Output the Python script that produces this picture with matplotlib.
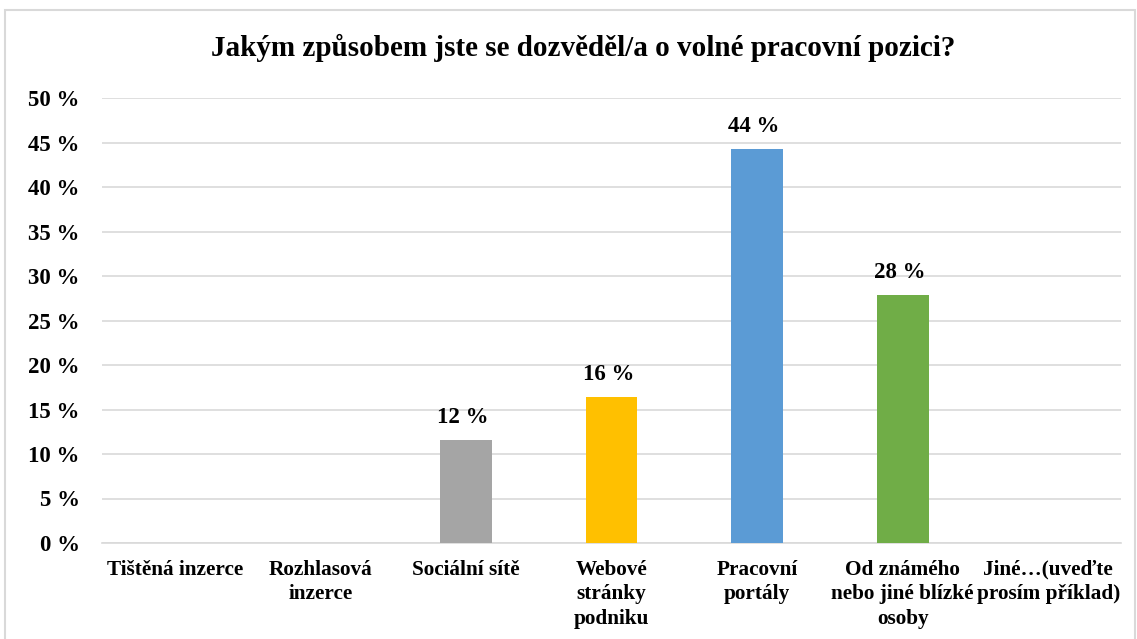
import matplotlib
matplotlib.use("Agg")
import matplotlib.pyplot as plt
from matplotlib.patches import Rectangle

categories = ["Tištěná inzerce", "Rozhlasová\ninzerce", "Sociální sítě",
              "Webové\nstránky\npodniku", "Pracovní\nportály",
              "Od známého\nnebo jiné blízké\nosoby", "Jiné…(uveďte\nprosím příklad)"]
values = [0, 0, 11.6, 16.4, 44.3, 27.9, 0]
labels = ["", "", "12 %", "16 %", "44 %", "28 %", ""]
colors = ["#a5a5a5", "#a5a5a5", "#a5a5a5", "#ffc000", "#5b9bd5", "#70ad47", "#a5a5a5"]
yticks = [0, 5, 10, 15, 20, 25, 30, 35, 40, 45, 50]

plt.rcParams['font.family'] = ['Liberation Serif', 'DejaVu Serif']
plt.rcParams['font.weight'] = 'bold'

W, H = 1137, 639
fig = plt.figure(figsize=(W / 100, H / 100), dpi=100)
fig.patches.append(Rectangle((5 / W, -0.05), (1130) / W, 1 - 10 / H + 0.05,
                             transform=fig.transFigure, fill=False,
                             edgecolor="#d9d9d9", linewidth=1.5))

ax = fig.add_axes([102 / W, 1 - 543 / H, (1121 - 102) / W, (543 - 98) / H])
x = list(range(len(categories)))
bars = ax.bar(x, values, width=0.357, color=colors, zorder=3)
for i, (v, lab) in enumerate(zip(values, labels)):
    if lab:
        ax.text(i - 0.02, v + 1.3, lab, ha="center", va="bottom", fontsize=16.5,
                fontweight="bold", color="black")

ax.set_xlim(-0.5, len(categories) - 0.5)
ax.set_ylim(0, 50)
ax.set_yticks(yticks)
ax.set_yticklabels([f"{t} %" for t in yticks], fontsize=16.5, fontweight="bold")
ax.set_xticks(x)
ax.set_xticklabels(categories, fontsize=15.3, fontweight="bold", va="top",
                   linespacing=1.32)
ax.tick_params(axis="both", length=0)
ax.tick_params(axis="y", pad=16)
ax.tick_params(axis="x", pad=12)
ax.grid(axis="y", color="#d9d9d9", linewidth=1.2, zorder=0)
for s in ["top", "right", "left"]:
    ax.spines[s].set_visible(False)
ax.spines["bottom"].set_color("#d9d9d9")
ax.spines["bottom"].set_linewidth(1.2)

fig.text(583 / W, 1 - 48 / H,
         "Jakým způsobem jste se dozvěděl/a o volné pracovní pozici?",
         ha="center", va="center", fontsize=21, fontweight="bold")

fig.savefig("out.png", dpi=100, facecolor="white")
